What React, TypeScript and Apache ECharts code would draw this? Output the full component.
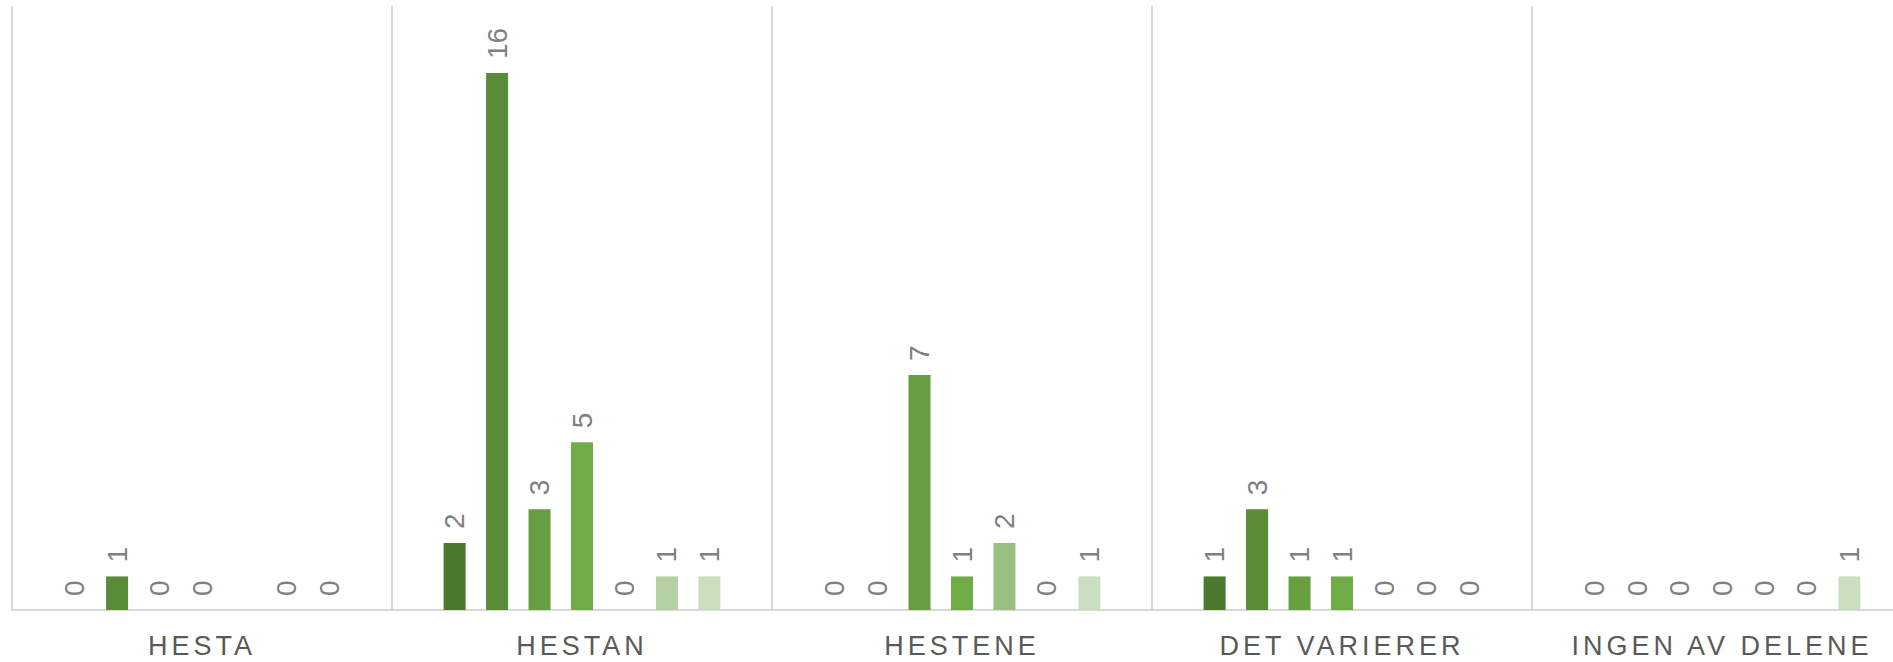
import React, { useEffect, useRef } from "react";
import * as echarts from "echarts";

const categories = ["HESTA", "HESTAN", "HESTENE", "DET VARIERER", "INGEN AV DELENE"];
const series1 = [0, 2, 0, 1, 0];
const series2 = [1, 16, 0, 3, 0];
const series3 = [0, 3, 7, 1, 0];
const series4 = [0, 5, 1, 1, 0];
const series5 = [null, 0, 2, 0, 0];
const series6 = [0, 1, 0, 0, 0];
const series7 = [0, 1, 1, 0, 1];
const seriesData = [series1, series2, series3, series4, series5, series6, series7];
const seriesColors = ["#4b7a2e", "#5a8c37", "#669e40", "#70ad47", "#99bf83", "#b5d1a3", "#cadfbf"];

export default function App() {
  const ref = useRef<HTMLDivElement>(null);
  useEffect(() => {
    if (!ref.current) return;
    const chart = echarts.init(ref.current, null, { renderer: "svg" });
    chart.setOption({
      animation: false,
      grid: { left: 12, top: 6, right: 18, bottom: 52, containLabel: false, outerBoundsMode: "none" },
      xAxis: {
        type: "category",
        data: categories,
        axisLine: { show: true, lineStyle: { color: "#d9d9d9", width: 2 } },
        axisTick: { show: false },
        splitLine: { show: true, lineStyle: { color: "#d9d9d9", width: 2 } },
        axisLabel: {
          color: "#595959",
          fontSize: 27,
          fontFamily: "Liberation Sans, Arial, sans-serif",
          margin: 22,
        },
      },
      yAxis: {
        type: "value",
        min: 0,
        max: 18,
        show: false,
        splitLine: { show: false },
      },
      series: seriesData.map((d, i) => ({
        type: "bar",
        name: "S" + (i + 1),
        data: d,
        barWidth: 22,
        barGap: "93%",
        itemStyle: { color: seriesColors[i] },
        label: {
          show: true,
          position: "top",
          rotate: 90,
          align: "left",
          verticalAlign: "middle",
          distance: 14,
          color: "#808080",
          fontSize: 28,
          fontFamily: "Liberation Sans, Arial, sans-serif",
        },
      })),
    });
    return () => chart.dispose();
  }, []);
  return (
    <>
      <style>{`body{margin:0;} #chartbox text[style*="27px"]{letter-spacing:4px;}`}</style>
      <div style={{ width: 1893, height: 662, overflow: "hidden" }}>
        <div id="chartbox" ref={ref} style={{ width: 1930, height: 662 }} />
      </div>
    </>
  );
}
